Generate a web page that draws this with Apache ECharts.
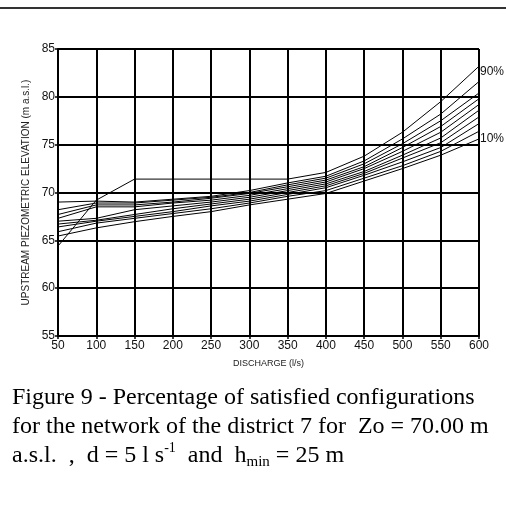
<!DOCTYPE html>
<html>
<head>
<meta charset="utf-8">
<script src="https://cdn.jsdelivr.net/npm/echarts@6/dist/echarts.min.js"></script>
<style>
  html, body { margin: 0; padding: 0; background: #fff; }
  #chart { width: 506px; height: 523px; }
</style>
</head>
<body>
<div id="chart"></div>
<script>
// discharge (l/s)
var discharge = [50, 100, 150, 200, 250, 300, 350, 400, 450, 500, 550, 600];
var yTicks = [55, 60, 65, 70, 75, 80, 85];

// upstream piezometric elevation (m a.s.l.), one curve per percentage
var p90 = [64.4, 69.2, 71.4, 71.4, 71.4, 71.4, 71.4, 72.1, 73.8, 76.3, 79.5, 83.2];
var p80 = [69.0, 69.1, 69.0, 69.3, 69.6, 70.2, 71.0, 71.7, 73.3, 75.6, 78.2, 81.6];
var p70 = [68.2, 68.9, 68.9, 69.2, 69.5, 70.0, 70.8, 71.5, 73.0, 75.1, 77.5, 80.4];
var p60 = [67.7, 68.7, 68.7, 69.0, 69.4, 69.9, 70.6, 71.3, 72.7, 74.7, 76.9, 79.8];
var p50 = [67.3, 68.5, 68.5, 68.9, 69.2, 69.7, 70.4, 71.1, 72.5, 74.3, 76.3, 79.2];
var p40 = [67.0, 67.3, 68.2, 68.6, 69.0, 69.5, 70.2, 70.9, 72.2, 73.9, 75.7, 78.6];
var p30 = [66.7, 67.1, 67.7, 68.3, 68.8, 69.3, 70.0, 70.7, 72.0, 73.6, 75.2, 77.9];
var p20 = [66.4, 67.0, 67.5, 68.0, 68.6, 69.1, 69.8, 70.5, 71.8, 73.2, 74.7, 77.2];
var p15 = [65.9, 66.8, 67.3, 67.8, 68.3, 68.9, 69.6, 70.2, 71.5, 72.8, 74.3, 76.4];
var p10 = [65.45, 66.3, 66.95, 67.5, 68.0, 68.7, 69.3, 69.9, 71.2, 72.5, 73.9, 75.6];

var curves = [
  { name: '90%', values: p90, label: true },
  { name: '80%', values: p80 },
  { name: '70%', values: p70 },
  { name: '60%', values: p60 },
  { name: '50%', values: p50 },
  { name: '40%', values: p40 },
  { name: '30%', values: p30 },
  { name: '20%', values: p20 },
  { name: '15%', values: p15 },
  { name: '10%', values: p10, label: true }
];

var chart = echarts.init(document.getElementById('chart'));

var series = curves.map(function (c) {
  return {
    name: c.name,
    type: 'line',
    symbol: 'none',
    silent: true,
    lineStyle: { color: '#000', width: 1 },
    data: discharge.map(function (x, i) { return [x, c.values[i]]; }),
    endLabel: {
      show: !!c.label,
      formatter: c.name,
      color: '#111',
      fontFamily: 'Liberation Sans',
      fontSize: 12,
      distance: 1,
      offset: [0, c.name === '90%' ? 5 : 0]
    }
  };
});

var option = {
  animation: false,
  grid: { left: 58, right: 27, top: 49, bottom: 187 },
  xAxis: {
    type: 'value',
    min: 50,
    max: 600,
    interval: 50,
    name: 'DISCHARGE (l/s)',
    nameLocation: 'middle',
    nameGap: 23,
    nameTextStyle: { color: '#222', fontSize: 9, fontFamily: 'Liberation Sans' },
    axisLine: { lineStyle: { color: '#000', width: 2 } },
    axisTick: { show: true, length: 3, lineStyle: { color: '#000', width: 1.5 } },
    axisLabel: { color: '#111', fontSize: 12, fontFamily: 'Liberation Sans', margin: 4 },
    splitLine: { show: true, lineStyle: { color: '#000', width: 2 } }
  },
  yAxis: {
    type: 'value',
    min: 55,
    max: 85,
    interval: 5,
    name: 'UPSTREAM PIEZOMETRIC ELEVATION (m a.s.l.)',
    nameLocation: 'middle',
    nameGap: 26,
    nameTextStyle: { color: '#222', fontSize: 10, fontFamily: 'Liberation Sans' },
    axisLine: { show: true, lineStyle: { color: '#000', width: 2 } },
    axisTick: { show: true, length: 3, lineStyle: { color: '#000', width: 1.5 } },
    axisLabel: {
      color: '#111', fontSize: 12, fontFamily: 'Liberation Sans', margin: 3,
      formatter: function (v) { return yTicks.indexOf(v) >= 0 ? String(v) : ''; }
    },
    splitLine: { show: true, lineStyle: { color: '#000', width: 2 } }
  },
  series: series,
  graphic: [
    {
      type: 'rect',
      shape: { x: 0, y: 7, width: 506, height: 2 },
      style: { fill: '#333' }
    },
    {
      type: 'text',
      left: 12,
      top: 383,
      style: {
        text: 'Figure 9 - Percentage of satisfied configurations\nfor the network of the district 7 for  Zo = 70.00 m\n{n|a.s.l.  ,  d = 5 l s}{sup|-1}{n|  and  h}{sub|min}{n| = 25 m}',
        font: '24px "Liberation Serif"',
        fill: '#000',
        lineHeight: 29,
        rich: {
          n: { fontSize: 24, fontFamily: 'Liberation Serif', fill: '#000', lineHeight: 29 },
          sup: { fontSize: 14, fontFamily: 'Liberation Serif', fill: '#000', verticalAlign: 'top', lineHeight: 29, padding: [0, 0, 12, 0] },
          sub: { fontSize: 15, fontFamily: 'Liberation Serif', fill: '#000', verticalAlign: 'bottom', lineHeight: 29, padding: [10, 0, 0, 0] }
        }
      }
    }
  ]
};

chart.setOption(option);
</script>
</body>
</html>
